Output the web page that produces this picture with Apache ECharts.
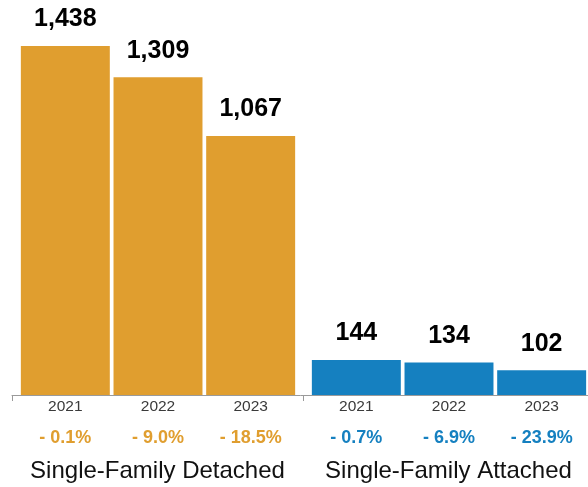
<!DOCTYPE html>
<html>
<head>
<meta charset="utf-8">
<script src="https://cdn.jsdelivr.net/npm/echarts@6/dist/echarts.min.js"></script>
<style>
  html, body { margin: 0; padding: 0; background: #fff; }
  #chart { width: 588px; height: 487px; }
</style>
</head>
<body>
<div id="chart"></div>
<script>
// Housing sales by type, 2021–2023, with year-over-year change
const years = ['2021', '2022', '2023'];
const groups = ['Single-Family Detached', 'Single-Family Attached'];
const detachedSales = [1438, 1309, 1067];
const attachedSales = [144, 134, 102];
const detachedChange = [-0.1, -9.0, -18.5];
const attachedChange = [-0.7, -6.9, -23.9];

const ORANGE = '#E09E2F';
const BLUE = '#1580C0';
const FONT = '"Liberation Sans", Arial, Helvetica, sans-serif';

const fmtChange = v => (v < 0 ? '- ' : '+ ') + Math.abs(v).toFixed(1) + '%';
const fmtCount = v => v.toLocaleString('en-US');

function yearAxis(gridIndex, changes, color) {
  return {
    type: 'category',
    gridIndex,
    data: years,
    axisLine: { show: false },
    axisTick: { show: false },
    axisLabel: {
      interval: 0,
      margin: 1,
      formatter: (val, idx) => '{y|' + val + '}\n{p|' + fmtChange(changes[idx]) + '}',
      rich: {
        y: { fontFamily: FONT, fontSize: 15.5, color: '#3a3a3a', lineHeight: 22 },
        p: { fontFamily: FONT, fontSize: 18, fontWeight: 'bold', color: color, lineHeight: 40 }
      }
    }
  };
}

function valueAxis(gridIndex) {
  return {
    type: 'value',
    gridIndex,
    min: 0,
    max: 1500,
    show: false,
    splitLine: { show: false }
  };
}

function barSeries(axisIndex, values, color) {
  return {
    type: 'bar',
    xAxisIndex: axisIndex,
    yAxisIndex: axisIndex,
    data: values,
    barCategoryGap: '4%',
    itemStyle: { color },
    label: {
      show: true,
      position: 'top',
      distance: 14,
      formatter: p => fmtCount(p.value),
      fontFamily: FONT,
      fontSize: 25,
      fontWeight: 'bold',
      color: '#000'
    },
    silent: true
  };
}

const chart = echarts.init(document.getElementById('chart'), null, { renderer: 'canvas' });
chart.setOption({
  animation: false,
  backgroundColor: '#fff',
  grid: [
    { left: 19, width: 278, top: 31, bottom: 92, outerBoundsMode: 'none' },
    { left: 310, width: 278, top: 31, bottom: 92, outerBoundsMode: 'none' },
    { left: 12, width: 582, top: 31, bottom: 92, outerBoundsMode: 'none' }
  ],
  xAxis: [
    yearAxis(0, detachedChange, ORANGE),
    yearAxis(1, attachedChange, BLUE),
    {
      type: 'category',
      gridIndex: 2,
      data: groups,
      axisLine: { lineStyle: { color: '#9a9a9a', width: 1 } },
      axisTick: { show: true, interval: 0, length: 6, lineStyle: { color: '#9a9a9a' } },
      axisLabel: {
        interval: 0,
        hideOverlap: false,
        margin: 64,
        fontFamily: FONT,
        fontSize: 24,
        color: '#111'
      },
      z: 5
    }
  ],
  yAxis: [valueAxis(0), valueAxis(1), valueAxis(2)],
  series: [
    barSeries(0, detachedSales, ORANGE),
    barSeries(1, attachedSales, BLUE)
  ]
});
</script>
</body>
</html>
